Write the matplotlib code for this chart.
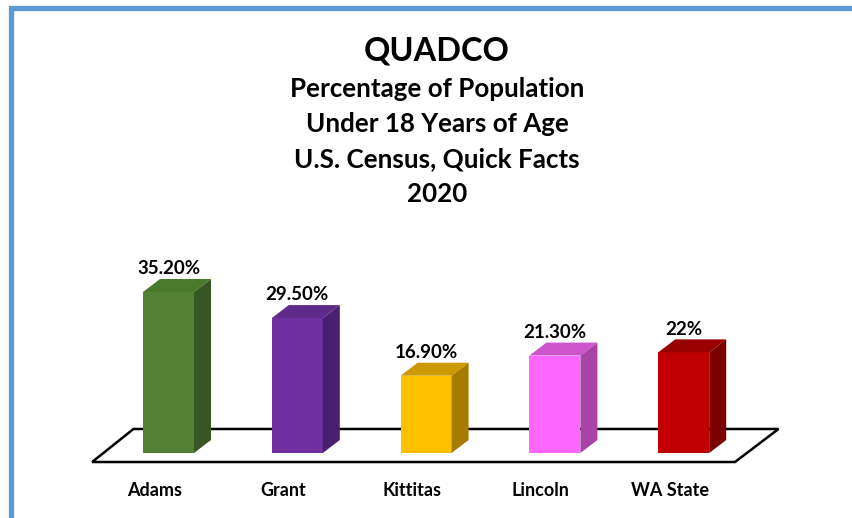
import matplotlib
matplotlib.use('Agg')
import matplotlib.pyplot as plt
from matplotlib.patches import Polygon

plt.rcParams['font.family'] = ['Lato', 'DejaVu Sans']

# data
counties = ['Adams', 'Grant', 'Kittitas', 'Lincoln', 'WA State']
pct = [35.2, 29.5, 16.9, 21.3, 22.0]
pct_labels = ['35.20%', '29.50%', '16.90%', '21.30%', '22%']
title_lines = ['Percentage of Population', 'Under 18 Years of Age',
               'U.S. Census, Quick Facts', '2020']

front_cols = ['#548235', '#7030A0', '#FFC000', '#FF66FF', '#C00000']
top_cols = ['#4A7A2C', '#5F2A8A', '#CC9A00', '#CC55CC', '#9A0000']
side_cols = ['#375623', '#4B1F6F', '#A67C00', '#A843A8', '#7A0000']

W, H = 852, 518
fig = plt.figure(figsize=[W / 100, H / 100], dpi=100)
ax = fig.add_axes([0, 0, 1, 1])
ax.axis('off')

# pixel mapping: bar centers every 128.8 px starting at 168.5, value 0 at 65 px from bottom
step, x0 = 128.8, 168.5
ppu, y0 = 4.574, 65
ax.set_xlim(-x0 / step, (W - x0) / step)
ax.set_ylim(-y0 / ppu, (H - y0) / ppu)

bw = 0.396      # bar width
dx, dy = 0.132, 2.84   # depth offset

# floor
floor = Polygon([(-0.593, -1.97), (4.398, -1.97), (4.736, 5.25), (-0.272, 5.25)],
                closed=True, facecolor='white', edgecolor='black', lw=1.8, zorder=1)
ax.add_patch(floor)

xs = list(range(len(counties)))
ax.bar(xs, pct, width=bw, color=front_cols, zorder=3, edgecolor='none')
for i, v in enumerate(pct):
    l, r = i - bw / 2, i + bw / 2
    ax.add_patch(Polygon([(l, v), (r, v), (r + dx, v + dy), (l + dx, v + dy)],
                         closed=True, facecolor=top_cols[i], edgecolor='none', zorder=3))
    ax.add_patch(Polygon([(r, 0), (r + dx, dy), (r + dx, v + dy), (r, v)],
                         closed=True, facecolor=side_cols[i], edgecolor='none', zorder=3))
    ax.text(i, v + dy + 0.4, pct_labels[i], ha='center', va='bottom',
            fontsize=13.5, fontweight='bold', color='black', zorder=4)
    ax.text(i - 0.11, -8.3, counties[i], ha='center', va='center',
            fontsize=13, fontweight='bold', color='black', zorder=4)

# titles
fig.text(0.513, 1 - 51 / H, 'QUADCO', ha='center', va='center',
         fontsize=23.4, fontweight='bold')
for k, line in enumerate(title_lines):
    fig.text(0.513, 1 - (89 + 35 * k) / H, line, ha='center', va='center',
             fontsize=18.7, fontweight='bold')

# blue border (top and left only, rest is cropped)
fig.add_artist(plt.Line2D([11 / W, 11 / W, 1], [0, 1 - 7.5 / H, 1 - 7.5 / H],
                          transform=fig.transFigure, color='#5B9BD5', lw=3.8,
                          solid_joinstyle='miter'))

plt.savefig('out.png', dpi=100)
